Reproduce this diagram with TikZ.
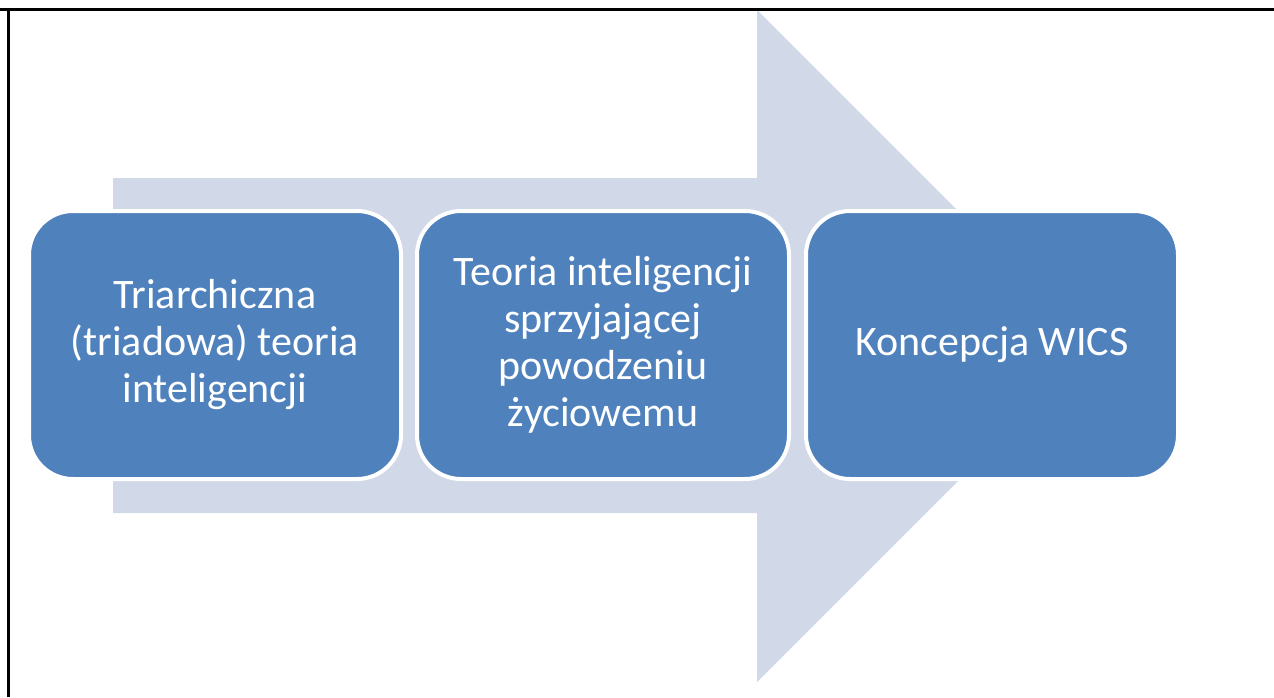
\documentclass[tikz,border=0pt]{standalone}
\usepackage{fontspec}
\setmainfont{Carlito}
\definecolor{boxblue}{HTML}{4F81BD}
\definecolor{arrowgray}{HTML}{D1D9E8}
\begin{document}
\begin{tikzpicture}[x=1pt,y=-1pt,
  stagebox/.style={draw=white, line width=4pt, fill=boxblue, rounded corners=44pt,
    minimum width=372pt, minimum height=268pt, inner sep=0pt,
    text=white, align=center, font=\fontsize{42}{47}\selectfont}]
\useasboundingbox (0,0) rectangle (1274,697);
\fill[white] (0,0) rectangle (1274,697);
% big background arrow
\fill[arrowgray] (113,178) -- (757,178) -- (757,10) -- (1093,346) -- (757,682) -- (757,513) -- (113,513) -- cycle;
% frame lines (cropped border)
\draw[line width=3pt] (0,9) -- (1274,9);
\draw[line width=3pt] (8,9) -- (8,697);
% stages
\node[stagebox] (s1) at (215,345) {Triarchiczna\\(triadowa) teoria\\inteligencji};
\node[stagebox] (s2) at (603,345) {Teoria inteligencji\\sprzyjającej\\powodzeniu\\życiowemu};
\node[stagebox] (s3) at (992,345) {Koncepcja WICS};
\end{tikzpicture}
\end{document}
